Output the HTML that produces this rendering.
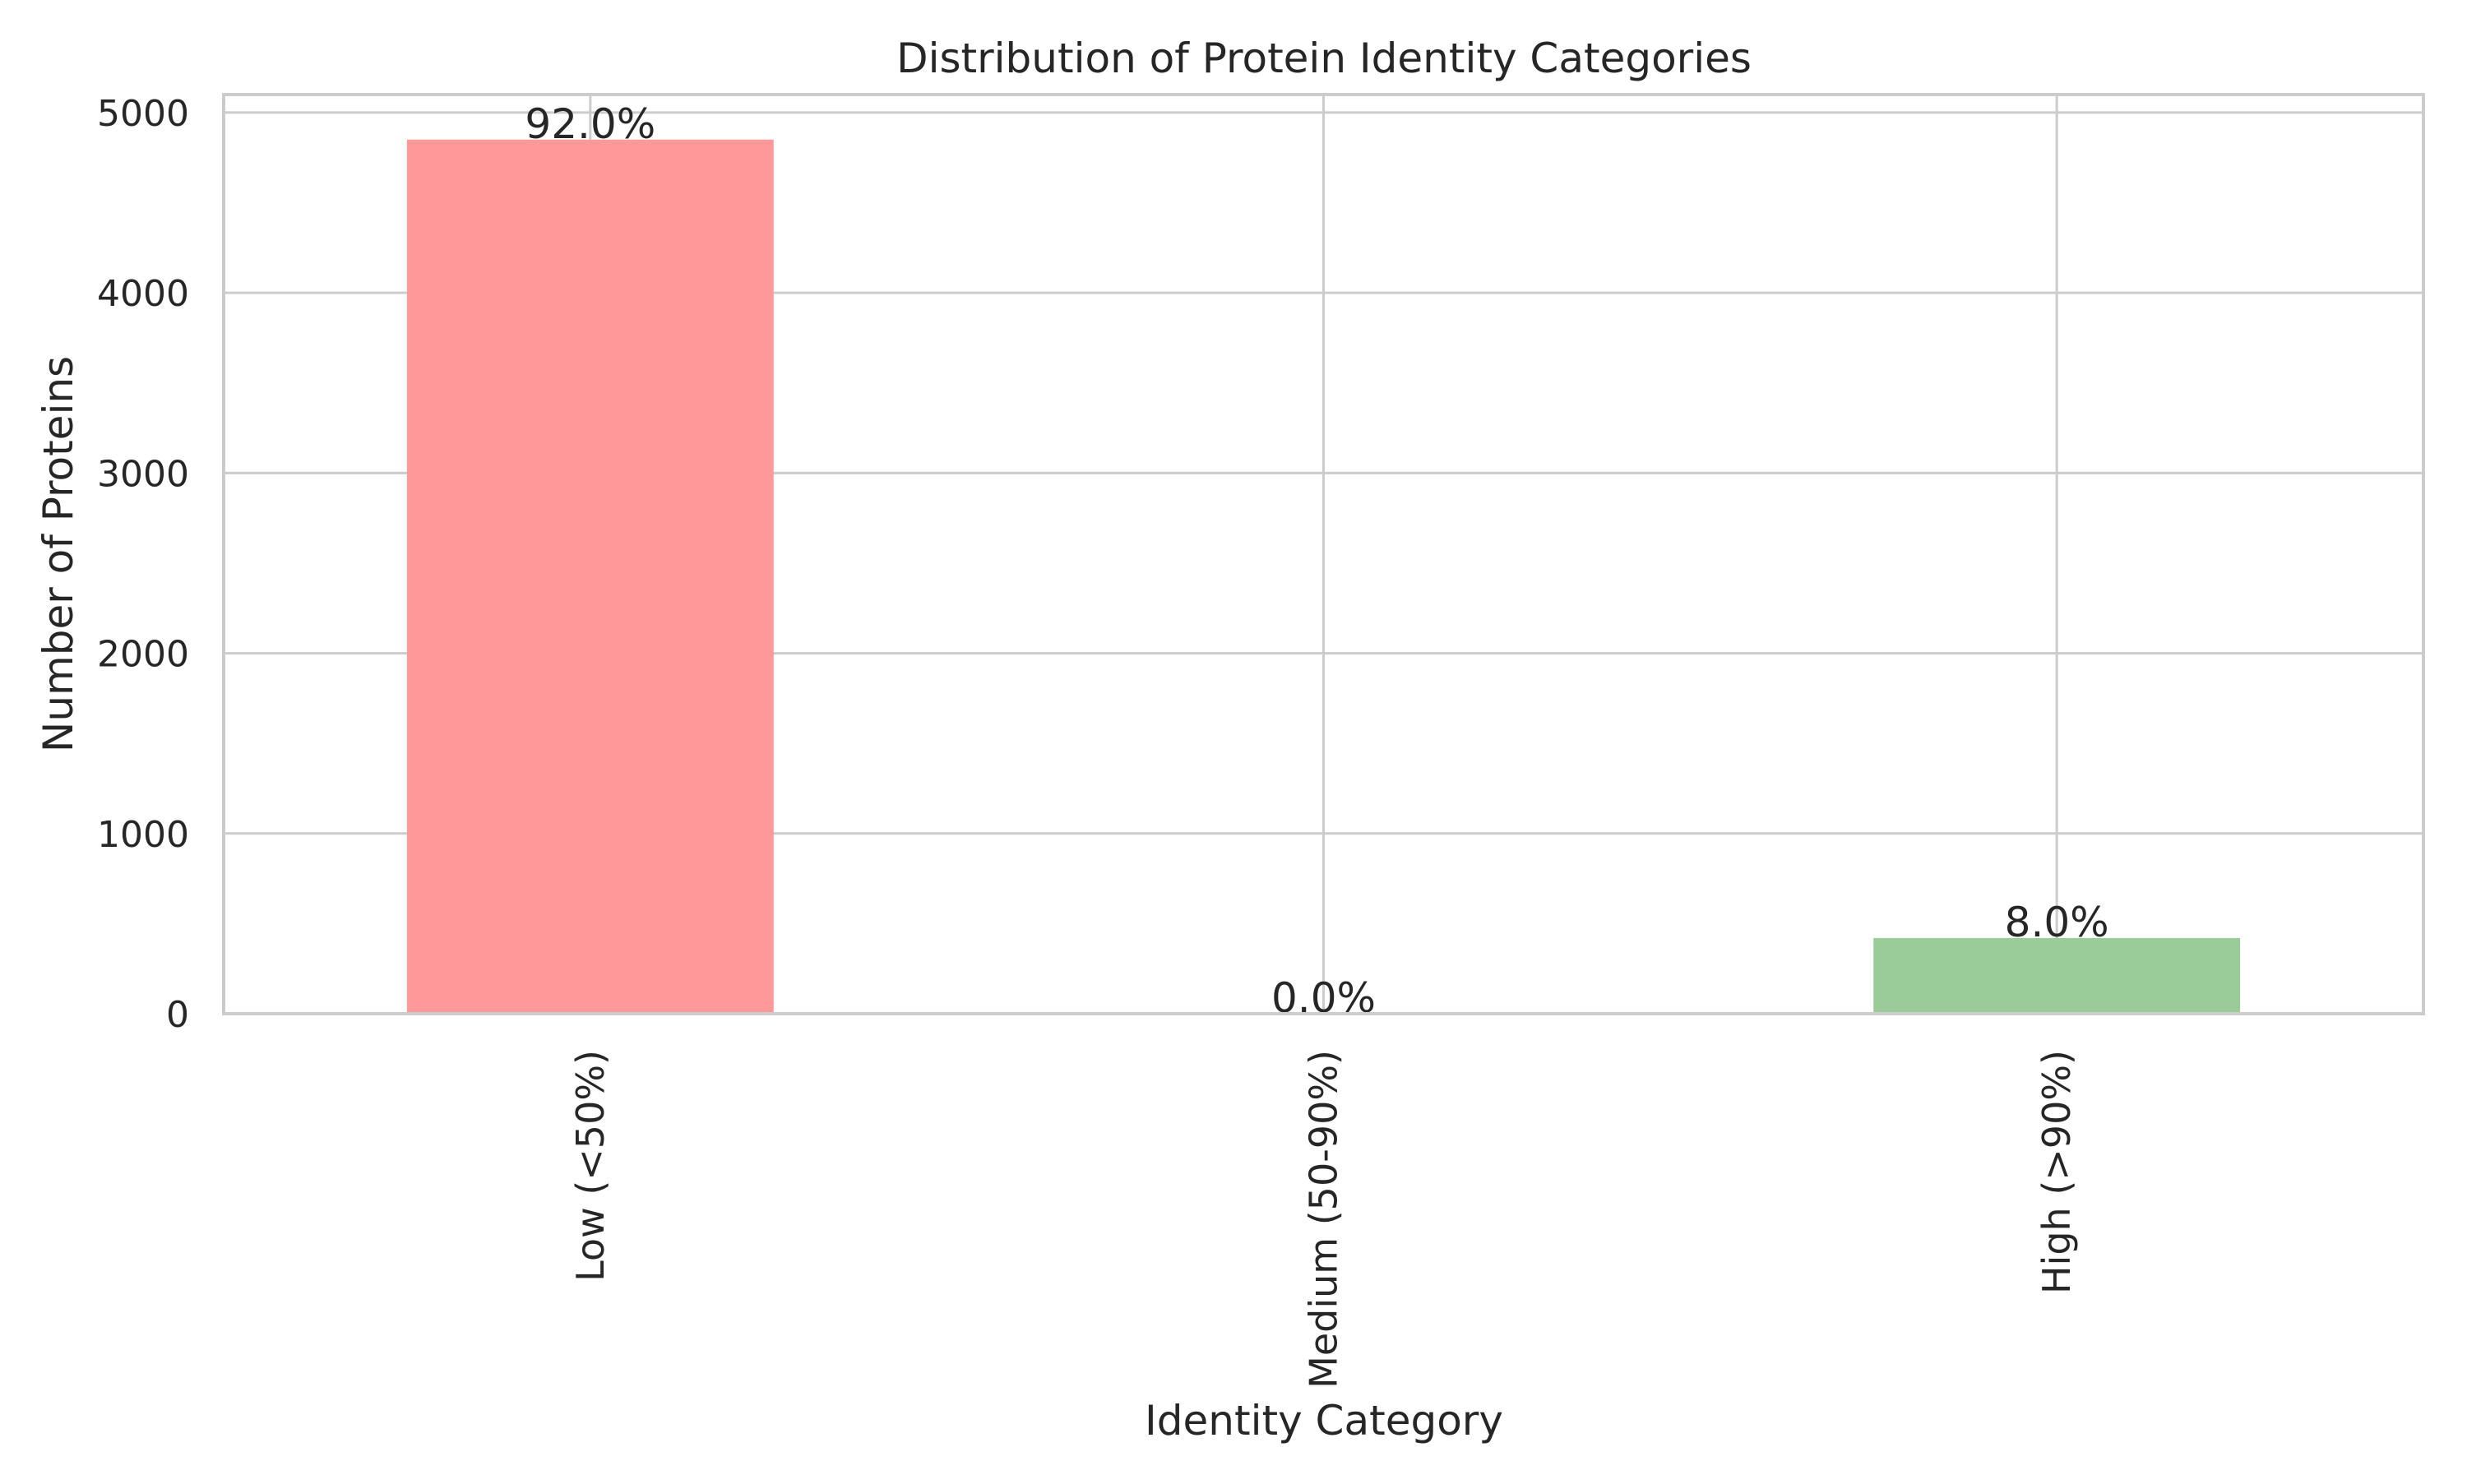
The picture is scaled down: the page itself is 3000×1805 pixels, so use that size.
<!DOCTYPE html>
<html><head><meta charset="utf-8"><style>
html,body{margin:0;padding:0;background:#fff}
svg text{font-family:"DejaVu Sans","Liberation Sans",sans-serif;fill:#262626}
</style></head><body>
<svg id="chart" width="3000" height="1800" xmlns="http://www.w3.org/2000/svg">
<rect width="3000" height="1800" fill="#fff"/>
<g id="grid"></g>
<g id="bars"></g>
<g id="labels"></g>
<text x="1610" y="88" text-anchor="middle" font-size="50">Distribution of Protein Identity Categories</text>
<text x="1610" y="1745" text-anchor="middle" font-size="50">Identity Category</text>
<text transform="translate(88,674) rotate(-90)" text-anchor="middle" font-size="50">Number of Proteins</text>
</svg>
<script>
const categories = ["Low (<50%)", "Medium (50-90%)", "High (>90%)"];
const counts = [4850, 0, 420];
const percents = ["92.0%", "0.0%", "8.0%"];
const yTicks = [0, 1000, 2000, 3000, 4000, 5000];
const colors = ["#ff9999", "#66b3ff", "#99cc99"];
const yMax = 5100;

const L = 272, R = 2947, T = 115, B = 1233;
const NS = "http://www.w3.org/2000/svg";
function y(v){ return B - (v / yMax) * (B - T); }
function xc(i){ return L + (i + 0.5) * (R - L) / categories.length; }
const bw = 0.5 * (R - L) / categories.length;
function mk(tag, attrs, parent){ const e = document.createElementNS(NS, tag); for (const k in attrs) e.setAttribute(k, attrs[k]); parent.appendChild(e); return e; }
const grid = document.getElementById('grid'), bars = document.getElementById('bars'), labels = document.getElementById('labels');

yTicks.forEach(t => {
  const ln = mk('line', {x1:L, x2:R, y1:y(t), y2:y(t), stroke:'#cccccc', 'stroke-width':3}, grid);
  
  
  const tx = mk('text', {x:230, y:y(t)+16, 'text-anchor':'end', 'font-size':44}, labels);
  tx.textContent = String(t);
  
  
});
categories.forEach((c, i) => {
  const ln = mk('line', {x1:xc(i), x2:xc(i), y1:T, y2:B, stroke:'#cccccc', 'stroke-width':3}, grid);
  
  
});
categories.forEach((c, i) => {
  const r = mk('rect', {x:xc(i)-bw/2, y:y(counts[i]), width:bw, height:B-y(counts[i]), fill:colors[i]}, bars);
  
  
  const p = mk('text', {x:xc(i), y:y(counts[i])-2, 'text-anchor':'middle', 'font-size':50}, labels);
  p.textContent = percents[i];
  
  
  const tl = mk('text', {transform:'translate(' + (xc(i)+16) + ',1277) rotate(-90)', 'text-anchor':'end', 'font-size':46}, labels);
  tl.textContent = c;
  
  
});
const fr = mk('rect', {x:L, y:T, width:R-L, height:B-T, fill:'none', stroke:'#cccccc', 'stroke-width':4}, labels);


</script>
</body></html>
